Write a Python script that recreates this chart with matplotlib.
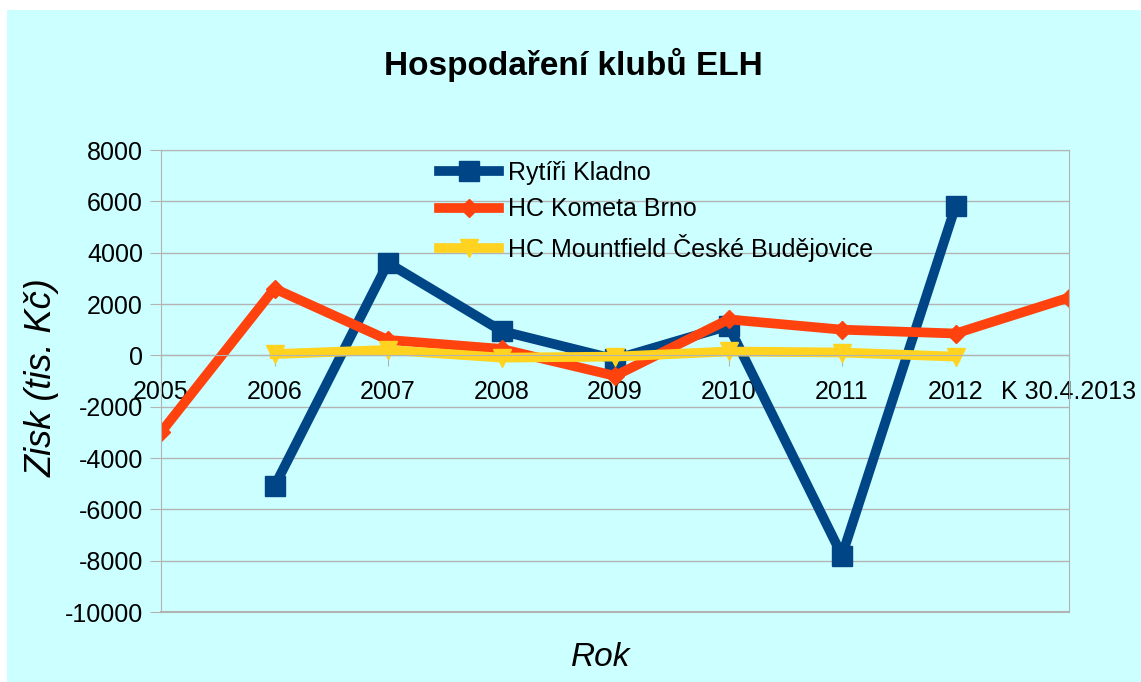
import numpy as np
import matplotlib.pyplot as plt
from matplotlib.patches import Rectangle

plt.rcParams['font.family'] = ['Liberation Sans', 'DejaVu Sans']
plt.rcParams['axes.unicode_minus'] = False

# data (tis. Kč), None = no value
years = ['2005', '2006', '2007', '2008', '2009', '2010', '2011', '2012', 'K 30.4.2013']
kladno = [None, -5100, 3600, 950, -150, 1150, -7800, 5800, None]
brno = [-3000, 2600, 600, 250, -800, 1400, 1000, 850, 2250]
budejovice = [None, 50, 210, -90, -50, 150, 110, -50, None]

def arr(v):
    return np.array([np.nan if a is None else a for a in v], dtype=float)

W, H = 1141, 682
fig = plt.figure(figsize=(W / 100, H / 100), dpi=100, facecolor='white')
fig.patches.append(Rectangle((7 / W, 0), 1, 1 - 10 / H, transform=fig.transFigure,
                             facecolor='#ccffff', edgecolor='none', zorder=-10))

ax = fig.add_axes([161 / W, 1 - 612 / H, 908 / W, 462 / H])
ax.set_facecolor('#ccffff')

x = np.arange(len(years))
ax.plot(x, arr(kladno), color='#004586', lw=7, marker='s', ms=14, label='Rytíři Kladno')
ax.plot(x, arr(brno), color='#ff420e', lw=7, marker='D', ms=9, label='HC Kometa Brno')
ax.plot(x, arr(budejovice), color='#ffd320', lw=7, marker='v', ms=13,
        label='HC Mountfield České Budějovice')

ax.set_xlim(0, 8)
ax.set_ylim(-10000, 8000)
ax.set_yticks(np.arange(-10000, 8001, 2000))
ax.set_xticks(x)
ax.set_xticklabels(years)
ax.yaxis.grid(True, color='#b3b3b3', lw=1)
ax.set_axisbelow(True)

for s in ['left', 'right', 'top', 'bottom']:
    ax.spines[s].set_color('#b3b3b3')
ax.spines['bottom'].set_position(('data', 0))
ax.axhline(-10000, color='#b3b3b3', lw=1.5, clip_on=False, zorder=0)

ax.tick_params(axis='both', colors='#b3b3b3', labelcolor='black', labelsize=18, length=8)
ax.tick_params(axis='y', pad=5)
ax.tick_params(axis='x', pad=10)

ax.set_title('Hospodaření klubů ELH', fontsize=24, fontweight='bold', x=0.4537, y=1.1623, pad=0)
ax.set_ylabel('Zisk (tis. Kč)', fontsize=26, style='italic')
ax.yaxis.set_label_coords(-0.112, 0.5065)
ax.set_xlabel('Rok', fontsize=24, style='italic')
ax.xaxis.set_label_coords(0.4846, -0.065)

ax.legend(loc='upper left', bbox_to_anchor=(439 / W, 1 - 161 / H), bbox_transform=fig.transFigure,
          frameon=False, fontsize=18, handlelength=2.4, handletextpad=0.35,
          borderpad=0, borderaxespad=0, labelspacing=0.5)

plt.savefig('out.png', dpi=100, facecolor=fig.get_facecolor())
